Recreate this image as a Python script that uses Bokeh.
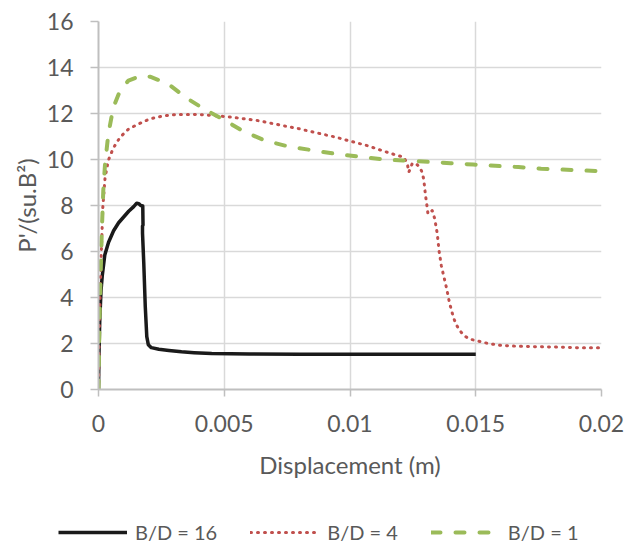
from bokeh.plotting import figure
from bokeh.models import Range1d, FixedTicker, Legend, LegendItem
from bokeh.layouts import column, row
from bokeh.embed import file_html
from bokeh.resources import INLINE

# ---- data ----
x_ticks = [0, 0.005, 0.01, 0.015, 0.02]
x_tick_labels = ["0", "0.005", "0.01", "0.015", "0.02"]
y_ticks = [0, 2, 4, 6, 8, 10, 12, 14, 16]
series_names = ["B/D = 16", "B/D = 4", "B/D = 1"]

x_bd16 = [0, 0.00002, 0.00005, 0.0001, 0.00015, 0.00025, 0.0004, 0.0006, 0.0008, 0.001,
          0.0012, 0.0014, 0.00152, 0.0016, 0.00168, 0.00176, 0.00177, 0.00175, 0.00175,
          0.0018, 0.00186, 0.00192, 0.00198, 0.0021, 0.0024, 0.0028, 0.0033, 0.0038,
          0.0045, 0.006, 0.008, 0.01, 0.0125, 0.015]
y_bd16 = [0, 1.6, 3.0, 4.3, 4.95, 5.85, 6.4, 6.9, 7.25, 7.5,
          7.75, 7.95, 8.1, 8.08, 8.0, 7.98, 7.15, 7.1, 6.8,
          5.5, 3.6, 2.3, 1.95, 1.82, 1.75, 1.7, 1.64, 1.6,
          1.56, 1.54, 1.53, 1.53, 1.53, 1.53]

x_bd4 = [0, 0.00003, 0.00006, 0.0001, 0.00013, 0.00017, 0.00026, 0.00039, 0.00059, 0.00086,
         0.0012, 0.0016, 0.00205, 0.0026, 0.0031, 0.0037, 0.0042, 0.0047, 0.0053, 0.0063,
         0.0073, 0.008, 0.0087, 0.0094, 0.01, 0.0107, 0.01135, 0.0119, 0.01214, 0.01228,
         0.01234, 0.01248, 0.01268, 0.01284, 0.01292, 0.01296, 0.013, 0.01305, 0.0131,
         0.01327, 0.01337, 0.01347, 0.01354, 0.01363, 0.0137, 0.01383, 0.01396, 0.01411,
         0.01422, 0.01436, 0.01453, 0.01473, 0.015, 0.01527, 0.01553, 0.01606, 0.01666,
         0.01733, 0.01839, 0.01918, 0.02]
y_bd4 = [0, 2.4, 3.9, 5.6, 6.5, 7.9, 9.2, 9.96, 10.5, 10.97,
         11.33, 11.55, 11.77, 11.9, 11.96, 11.96, 11.94, 11.9, 11.84, 11.7,
         11.48, 11.33, 11.15, 10.98, 10.8, 10.6, 10.36, 10.17, 10.1, 9.81,
         9.45, 9.84, 9.77, 9.52, 9.2, 8.87, 8.45, 8.07, 7.64,
         7.78, 7.42, 6.77, 6.04, 5.39, 5.06, 4.45, 3.75, 3.14,
         2.83, 2.57, 2.35, 2.2, 2.13, 2.06, 1.99, 1.91, 1.88,
         1.86, 1.84, 1.81, 1.81]

x_bd1 = [0, 0.00003, 0.00008, 0.00013, 0.00019, 0.00026, 0.00039, 0.00059, 0.00086, 0.00119,
         0.00165, 0.00205, 0.00245, 0.00285, 0.0035, 0.0043, 0.005, 0.0057, 0.0066, 0.0075,
         0.0084, 0.0094, 0.0103, 0.0114, 0.0121, 0.014, 0.0149, 0.0167, 0.0176, 0.02]
y_bd1 = [0, 2.4, 4.8, 6.8, 8.65, 9.8, 11.1, 12.27, 13.0, 13.43,
         13.63, 13.6, 13.43, 13.22, 12.67, 12.13, 11.72, 11.26, 10.83, 10.58,
         10.42, 10.25, 10.13, 9.99, 9.96, 9.84, 9.78, 9.67, 9.6, 9.49]

FONT = "Lato"
TEXT = "#595959"

series = [(x_bd16, y_bd16), (x_bd4, y_bd4), (x_bd1, y_bd1)]
styles = [
    dict(line_color="#1a1a1a", line_width=3.5, line_join="round"),
    dict(line_color="#c0504d", line_width=3, line_dash="1 6", line_cap="round", line_join="round"),
    dict(line_color="#9bbb59", line_width=4, line_dash="9 15", line_cap="round", line_join="round"),
]

p = figure(width=625, height=510, x_range=Range1d(0, 0.02), y_range=Range1d(0, 16),
           output_backend="svg", toolbar_location=None,
           min_border_left=98, min_border_right=24, min_border_top=21, min_border_bottom=121)
p.outline_line_color = None
p.background_fill_color = "white"
p.border_fill_color = "white"

for ax in (p.xaxis[0], p.yaxis[0]):
    ax.axis_line_color = "#bfbfbf"
    ax.axis_line_width = 2
    ax.major_tick_line_color = "#bfbfbf"
    ax.major_tick_line_width = 1.5
    ax.major_tick_in = 0
    ax.minor_tick_line_color = None
    ax.major_label_text_font = FONT
    ax.major_label_text_font_size = "23px"
    ax.major_label_text_color = TEXT
    ax.axis_label_text_font = FONT
    ax.axis_label_text_font_size = "24px"
    ax.axis_label_text_font_style = "normal"
    ax.axis_label_text_color = TEXT

p.xaxis.ticker = FixedTicker(ticks=x_ticks)
p.xaxis.major_label_overrides = dict(zip(x_ticks, x_tick_labels))
p.xaxis.major_tick_out = 7
p.xaxis.major_label_standoff = 18
p.xaxis.axis_label = "Displacement (m)"
p.xaxis.axis_label_standoff = 15

p.yaxis.ticker = FixedTicker(ticks=y_ticks)
p.yaxis.major_tick_out = 8
p.yaxis.major_label_standoff = 17
p.yaxis.axis_label = "P'/(su.B\u00b2)"
p.yaxis.axis_label_standoff = 3

p.xgrid.ticker = FixedTicker(ticks=x_ticks)
p.ygrid.ticker = FixedTicker(ticks=y_ticks)
for g in (p.xgrid[0], p.ygrid[0]):
    g.grid_line_color = "#d9d9d9"
    g.grid_line_width = 1.5

for (xs, ys), s in zip(series, styles):
    p.line(xs, ys, **s)

# legend strip below the chart (its renderers sit outside its visible ranges)
lg = figure(width=625, height=34, x_range=Range1d(100, 101), y_range=Range1d(100, 101),
            output_backend="svg", toolbar_location=None,
            x_axis_location=None, y_axis_location=None,
            min_border_left=0, min_border_right=0, min_border_top=0, min_border_bottom=0)
lg.grid.visible = False
lg.outline_line_color = None
lg.border_fill_color = "white"
lg_renderers = [lg.line(xs, ys, **s) for (xs, ys), s in zip(series, styles)]

legend = Legend(items=[LegendItem(label=n, renderers=[r]) for n, r in zip(series_names, lg_renderers)],
                orientation="horizontal", location=(58, 0),
                glyph_width=69, glyph_height=20, label_standoff=8, spacing=33,
                padding=0, margin=0, border_line_color=None, background_fill_alpha=0,
                label_text_font=FONT, label_text_font_size="20px", label_text_color=TEXT,
                label_height=20)
lg.add_layout(legend)

layout = column(p, row(lg), spacing=0)
open("out.html", "w").write(file_html(layout, INLINE))
